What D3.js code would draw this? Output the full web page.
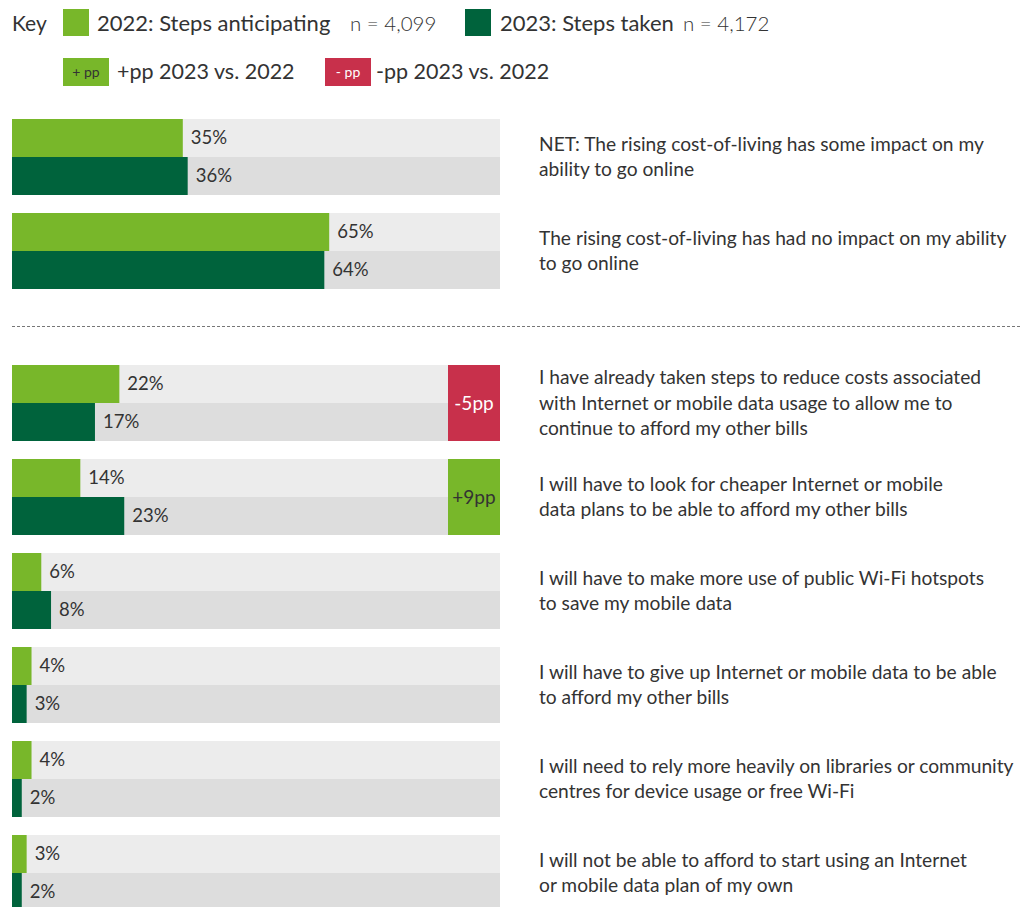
<!DOCTYPE html>
<html>
<head>
<meta charset="utf-8">
<script src="https://cdn.jsdelivr.net/npm/d3@7"></script>
<style>
  body { margin: 0; background: #fff; }
  text { font-family: Lato, "Open Sans", sans-serif; }
</style>
</head>
<body>
<svg id="chart" width="1020" height="907"></svg>
<script>
// statements (line breaks as in the picture)
const statements = [
  "NET: The rising cost-of-living has some impact on my\nability to go online",
  "The rising cost-of-living has had no impact on my ability\nto go online",
  "I have already taken steps to reduce costs associated\nwith Internet or mobile data usage to allow me to\ncontinue to afford my other bills",
  "I will have to look for cheaper Internet or mobile\ndata plans to be able to afford my other bills",
  "I will have to make more use of public Wi-Fi hotspots\nto save my mobile data",
  "I will have to give up Internet or mobile data to be able\nto afford my other bills",
  "I will need to rely more heavily on libraries or community\ncentres for device usage or free Wi-Fi",
  "I will not be able to afford to start using an Internet\nor mobile data plan of my own"
];
const section = [0, 0, 1, 1, 1, 1, 1, 1];
const anticipating2022 = [35, 65, 22, 14, 6, 4, 4, 3];
const taken2023 = [36, 64, 17, 23, 8, 3, 2, 2];
// significant differences only
const ppChange = [null, null, -5, 9, null, null, null, null];

const series = ["2022", "2023"];
const seriesLabels = ["2022: Steps anticipating", "2023: Steps taken"];
const seriesN = ["n = 4,099", "n = 4,172"];

const colors = { "2022": "#78b72a", "2023": "#00633c" };
const trackColors = { "2022": "#ececec", "2023": "#dddddd" };
const upColor = "#78b72a", downColor = "#c8304b";
const textColor = "#333333";

const svg = d3.select("#chart");

const x = d3.scaleLinear().domain([0, 100]).range([12, 500]);
const groupH = 76, pitch = 94;
const sectionTop = [119, 365];
const firstInSection = [0, 2];
const groupY = i => sectionTop[section[i]] + (i - firstInSection[section[i]]) * pitch;
const yInner = d3.scaleBand().domain(series).range([0, groupH]);

const rows = statements.map((s, i) => ({
  label: s, i, pp: ppChange[i],
  vals: [{ key: "2022", v: anticipating2022[i] }, { key: "2023", v: taken2023[i] }]
}));

// legend
const key = svg.append("g").attr("class", "legend");
key.append("text").attr("x", 12).attr("y", 31).attr("font-size", 21).attr("fill", textColor).text("Key");
const legendX = [{ sq: 63, t: 97, n: 350 }, { sq: 465, t: 500, n: 683 }];
series.forEach((s, k) => {
  const p = legendX[k];
  key.append("rect").attr("x", p.sq).attr("y", 9).attr("width", 26).attr("height", 27).attr("fill", colors[s]);
  key.append("text").attr("x", p.t).attr("y", 31).attr("font-size", 22).attr("fill", textColor).text(seriesLabels[k]);
  key.append("text").attr("x", p.n).attr("y", 31).attr("font-size", 20.5).attr("font-weight", 300)
    .attr("fill", "#333").text(seriesN[k]);
});
const ppKey = [
  { x: 63, fill: upColor, tc: textColor, badge: "+ pp", label: "+pp 2023 vs. 2022", tx: 117 },
  { x: 325, fill: downColor, tc: "#fff", badge: "- pp", label: "-pp 2023 vs. 2022", tx: 376 }
];
ppKey.forEach(d => {
  key.append("rect").attr("x", d.x).attr("y", 58).attr("width", 46).attr("height", 28).attr("fill", d.fill);
  key.append("text").attr("x", d.x + 23).attr("y", 77).attr("text-anchor", "middle")
    .attr("font-size", 14).attr("fill", d.tc).text(d.badge);
  key.append("text").attr("x", d.tx).attr("y", 79).attr("font-size", 21.5).attr("fill", textColor).text(d.label);
});

// divider between sections
svg.append("line").attr("x1", 12).attr("x2", 1020).attr("y1", 326.5).attr("y2", 326.5)
  .attr("stroke", "#777").attr("stroke-width", 1).attr("stroke-dasharray", "3,2");

const g = svg.append("g").selectAll("g.row").data(rows).join("g")
  .attr("class", "row")
  .attr("transform", d => `translate(0,${groupY(d.i)})`);

// background tracks
g.selectAll("rect.track").data(d => d.vals).join("rect")
  .attr("class", "track")
  .attr("x", x(0)).attr("width", x(100) - x(0))
  .attr("y", d => yInner(d.key)).attr("height", yInner.bandwidth())
  .attr("fill", d => trackColors[d.key]);

// bars
g.selectAll("rect.bar").data(d => d.vals).join("rect")
  .attr("class", "bar")
  .attr("x", x(0)).attr("width", d => x(d.v) - x(0))
  .attr("y", d => yInner(d.key)).attr("height", yInner.bandwidth())
  .attr("fill", d => colors[d.key]);

// value labels
g.selectAll("text.val").data(d => d.vals).join("text")
  .attr("class", "val")
  .attr("x", d => x(d.v) + 8)
  .attr("y", d => yInner(d.key) + yInner.bandwidth() / 2)
  .attr("dy", "0.35em")
  .attr("font-size", 18.5).attr("fill", textColor)
  .text(d => d.v + "%");

// pp badges
const badge = g.filter(d => d.pp !== null);
badge.append("rect")
  .attr("x", 448).attr("width", x(100) - 448)
  .attr("y", 0).attr("height", groupH)
  .attr("fill", d => d.pp < 0 ? downColor : upColor);
badge.append("text")
  .attr("x", (448 + x(100)) / 2).attr("y", groupH / 2).attr("dy", "0.35em")
  .attr("text-anchor", "middle").attr("font-size", 19)
  .attr("fill", d => d.pp < 0 ? "#fff" : textColor)
  .text(d => (d.pp > 0 ? "+" : "") + d.pp + "pp");

// statement text
const lineH = 25.5;
g.each(function (d) {
  const lines = d.label.split("\n");
  const t = d3.select(this).append("text")
    .attr("x", 539).attr("font-size", 19.2).attr("fill", textColor);
  const start = groupH / 2 - (lines.length - 1) * lineH / 2;
  lines.forEach((l, k) => {
    t.append("tspan").attr("x", 539).attr("y", start + k * lineH).attr("dy", "0.35em").text(l);
  });
});
</script>
</body>
</html>
